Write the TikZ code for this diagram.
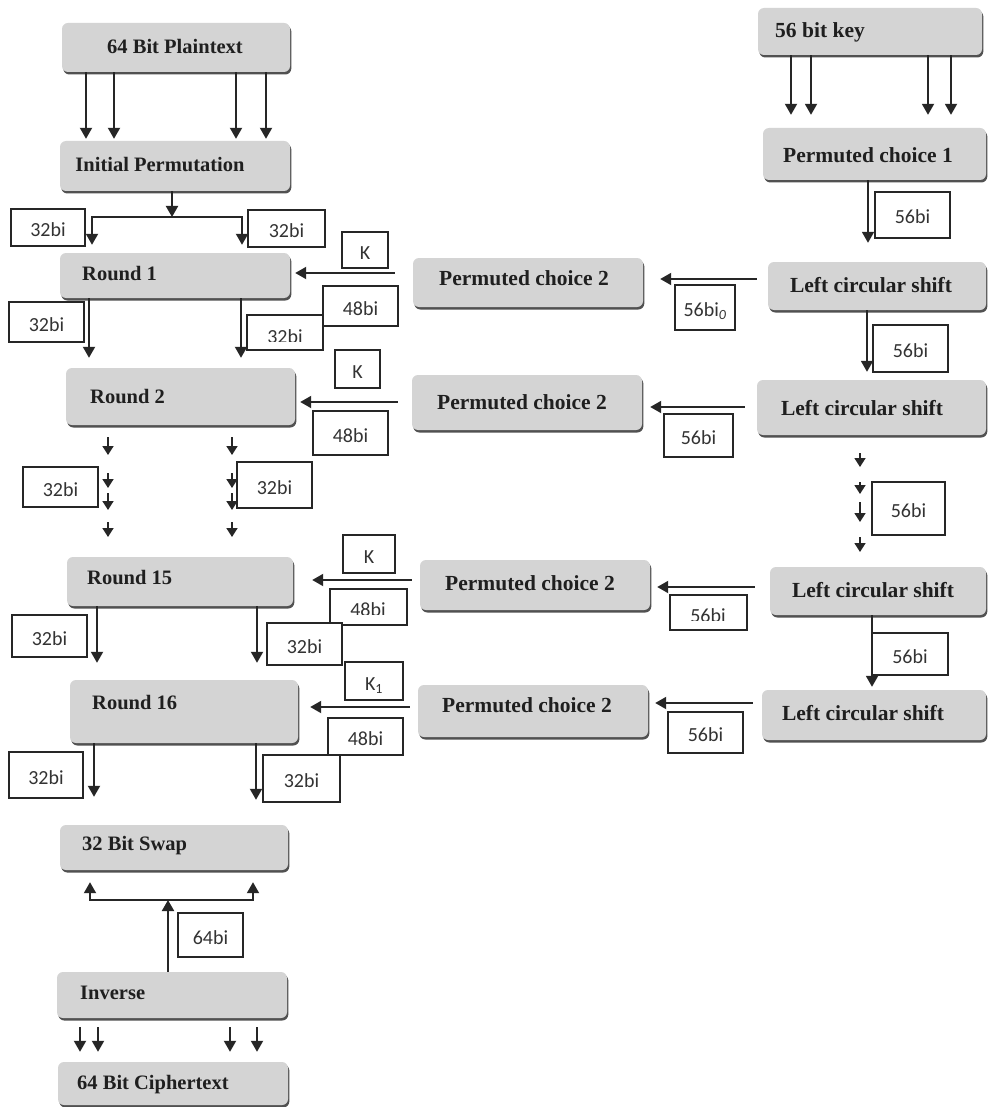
\documentclass[tikz,border=0pt]{standalone}
\usepackage{fontspec}
\setmainfont{Liberation Serif}
\newfontfamily\calib{Carlito}
\usetikzlibrary{arrows.meta,shadows,calc}
\newcommand{\GB}[5]{\node[gbox, minimum width={#4-#2}, minimum height={#5-#3}] (#1) at ({(#2+#4)/2},{(#3+#5)/2}) {};}
\newcommand{\LB}[6]{\node[lbox, minimum width={#4-#2}, minimum height={#5-#3}] (#1) at ({(#2+#4)/2},{(#3+#5)/2}) {#6};}
\begin{document}
\begin{tikzpicture}[x=1pt,y=-1pt,
  gbox/.style={rounded corners=6pt, fill=black!17, draw=none, inner sep=0pt,
    drop shadow={shadow xshift=1.3pt, shadow yshift=-2.5pt, fill=black!80, opacity=0.85}},
  lbox/.style={draw=black!85, line width=1.6pt, fill=white, inner sep=0pt,
    font=\calib\fontsize{20}{22}\selectfont, text=black!80, text height=18pt, text depth=0pt},
  ltxt/.style={font=\calib\fontsize{20}{22}\selectfont, text=black!80, inner sep=0pt},
  gt/.style={font=\bfseries\fontsize{20.5}{24}\selectfont, inner sep=0pt, text=black!88,
    text height=13.8pt, text depth=0pt},
  gtr/.style={gt, font=\bfseries\fontsize{21.5}{25}\selectfont, text height=14.3pt},
  arr/.style={line width=1.9pt, draw=black!85, -{Triangle[width=12pt,length=11pt]}},
  sarr/.style={line width=1.7pt, draw=black!85, -{Triangle[width=11pt,length=9pt]}}]
\useasboundingbox[fill=white] (0,0) rectangle (988,1107);

% ---- gray boxes
\GB{pt}{62}{23}{290}{72}
\GB{ip}{60}{141}{290}{191}
\GB{r1}{60}{253}{290}{298}
\GB{r2}{66}{368}{295}{425}
\GB{r15}{67}{557}{293}{606}
\GB{r16}{70}{680}{298}{743}
\GB{sw}{60}{825}{288}{870}
\GB{inv}{57}{972}{287}{1018}
\GB{ct}{58}{1062}{288}{1105}
\GB{key}{758}{8}{982}{55}
\GB{pc1}{763}{128}{986}{180}
\GB{lcs1}{768}{262}{986}{310}
\GB{lcs2}{757}{380}{986}{435}
\GB{lcs15}{770}{567}{986}{615}
\GB{lcs16}{762}{690}{986}{740}
\GB{pc2a}{413}{258}{643}{307}
\GB{pc2b}{412}{375}{642}{430}
\GB{pc2c}{420}{560}{650}{610}
\GB{pc2d}{418}{685}{648}{737}

% ---- texts in gray boxes
\node[gt] (ptt) at (175,47) {64 Bit Plaintext};
\node[gt] (ipt) at (160,165) {Initial Permutation};
\node[gt,anchor=west] (r1t) at (82,274) {Round 1};
\node[gt,anchor=west] (r2t) at (90,397) {Round 2};
\node[gt,anchor=west] (r15t) at (87,578) {Round 15};
\node[gt,anchor=west] (r16t) at (92,703) {Round 16};
\node[gt,anchor=west] (swt) at (82,844) {32 Bit Swap};
\node[gt,anchor=west] (invt) at (80,993) {Inverse};
\node[gt,anchor=west] (ctt) at (77,1083) {64 Bit Ciphertext};
\node[gtr,anchor=west] (keyt) at (775,30) {56 bit key};
\node[gtr] (pc1t) at (868,155) {Permuted choice 1};
\node[gtr] (lcs1t) at (871,285) {Left circular shift};
\node[gtr] (lcs2t) at (862,408) {Left circular shift};
\node[gtr] (lcs15t) at (873,590) {Left circular shift};
\node[gtr] (lcs16t) at (863,713) {Left circular shift};
\node[gtr] (pc2at) at (524,278) {Permuted choice 2};
\node[gtr] (pc2bt) at (522,402) {Permuted choice 2};
\node[gtr] (pc2ct) at (530,583) {Permuted choice 2};
\node[gtr] (pc2dt) at (527,705) {Permuted choice 2};

% ---- left column connectors
\foreach \x in {86,114,236,266}
  \draw[arr, shorten >=2pt] (\x,0 |- pt.south) -- (\x,0 |- ip.north);
\coordinate (ipj) at (172,217);
\draw[arr] (172,0 |- ip.south) -- (ipj);
\draw[arr, shorten >=8pt] (ipj) -| (92,0 |- r1.north);
\draw[arr, shorten >=8pt] (ipj) -| (242,0 |- r1.north);
\draw[arr, shorten >=10pt] (89,0 |- r1.south) -- (89,0 |- r2.north);
\draw[arr, shorten >=10pt] (241,0 |- r1.south) -- (241,0 |- r2.north);
\foreach \a/\b in {437/455,473/488,493/510,522/537} {
  \draw[sarr] (108,\a) -- (108,\b);
  \draw[sarr] (232,\a) -- (232,\b);}
\draw[arr, shorten >=17pt] (97,0 |- r15.south) -- (97,0 |- r16.north);
\draw[arr, shorten >=17pt] (257,0 |- r15.south) -- (257,0 |- r16.north);
\draw[arr, shorten >=28pt] (94,0 |- r16.south) -- (94,0 |- sw.north);
\draw[arr, shorten >=25pt] (256,0 |- r16.south) -- (256,0 |- sw.north);
\coordinate (swj) at (168,900);
\draw[arr] (168,0 |- inv.north) -- (swj);
\draw[arr, shorten >=12pt] (swj) -| (90,0 |- sw.south);
\draw[arr, shorten >=12pt] (swj) -| (253,0 |- sw.south);
\foreach \x in {80,98,230,257}
  \draw[arr, shorten <=9pt, shorten >=10pt] (\x,0 |- inv.south) -- (\x,0 |- ct.north);

% ---- right column connectors
\foreach \x in {791,811,928,951}
  \draw[arr, shorten >=13pt] (\x,0 |- key.south) -- (\x,0 |- pc1.north);
\draw[arr, shorten >=19pt] (868,0 |- pc1.south) -- (868,0 |- lcs1.north);
\draw[arr, shorten >=8pt] (867,0 |- lcs1.south) -- (867,0 |- lcs2.north);
\foreach \a/\b in {453/467,482/494,502/522,537/552}
  \draw[sarr] (860,\a) -- (860,\b);
\draw[arr, shorten >=3pt] (872,0 |- lcs15.south) -- (872,0 |- lcs16.north);

% ---- horizontal connectors
\draw[arr, shorten <=11pt, shorten >=17pt] (lcs1.west |- 0,279) -- (pc2a.east |- 0,279);
\draw[arr, shorten <=18pt, shorten >=5pt] (pc2a.west |- 0,273) -- (r1.east |- 0,273);
\draw[arr, shorten <=12pt, shorten >=8pt] (lcs2.west |- 0,407) -- (pc2b.east |- 0,407);
\draw[arr, shorten <=14pt, shorten >=5pt] (pc2b.west |- 0,402) -- (r2.east |- 0,402);
\draw[arr, shorten <=15pt, shorten >=7pt] (lcs15.west |- 0,587) -- (pc2c.east |- 0,587);
\draw[arr, shorten <=8pt, shorten >=19pt] (pc2c.west |- 0,580) -- (r15.east |- 0,580);
\draw[arr, shorten <=9pt, shorten >=7pt] (lcs16.west |- 0,703) -- (pc2d.east |- 0,703);
\draw[arr, shorten <=8pt, shorten >=12pt] (pc2d.west |- 0,707) -- (r16.east |- 0,707);

% ---- label boxes
\LB{l1a}{11}{209}{85}{246}{32bi}
\LB{l1b}{248}{210}{325}{247}{32bi}
\LB{l2a}{9}{302}{84}{342}{32bi}
\LB{l2b}{247}{315}{323}{350}{}
\begin{scope}\clip (247,315) rectangle (323,341);
\node[ltxt, anchor=base] (l2bt) at (285,343) {32bi};\end{scope}
\LB{ka}{342}{232}{388}{268}{K}
\LB{b48a}{323}{286}{398}{326}{48bi}
\LB{s0}{675}{285}{735}{330}{56bi\textsubscript{\textit{0}}}
\LB{s1}{875}{192}{950}{238}{56bi}
\LB{s2}{873}{325}{948}{372}{56bi}
\LB{kb}{335}{350}{380}{388}{K}
\LB{b48b}{313}{411}{388}{455}{48bi}
\LB{s3}{664}{414}{733}{457}{56bi}
\LB{l3a}{23}{467}{98}{507}{32bi}
\LB{l3b}{237}{462}{312}{508}{32bi}
\LB{s4}{872}{482}{945}{535}{56bi}
\LB{kc}{343}{535}{395}{573}{K}
\LB{b48c}{330}{589}{407}{625}{}
\begin{scope}\clip (330,589) rectangle (407,614);
\node[ltxt, anchor=base] (b48ct) at (368,616) {48bi};\end{scope}
\LB{s5}{670}{595}{747}{630}{}
\begin{scope}\clip (670,595) rectangle (747,620);
\node[ltxt, anchor=base] (s5t) at (708,622) {56bi};\end{scope}
\LB{s6}{872}{633}{948}{675}{56bi}
\LB{l4a}{12}{615}{87}{657}{32bi}
\LB{l4b}{267}{623}{342}{665}{32bi}
\LB{kd}{345}{662}{403}{700}{K\textsubscript{1}}
\LB{b48d}{328}{718}{403}{755}{48bi}
\LB{s7}{668}{712}{743}{753}{56bi}
\LB{l5a}{9}{752}{83}{798}{32bi}
\LB{l5b}{263}{755}{340}{802}{32bi}
\LB{b64}{178}{913}{243}{957}{64bi}
\end{tikzpicture}
\end{document}
